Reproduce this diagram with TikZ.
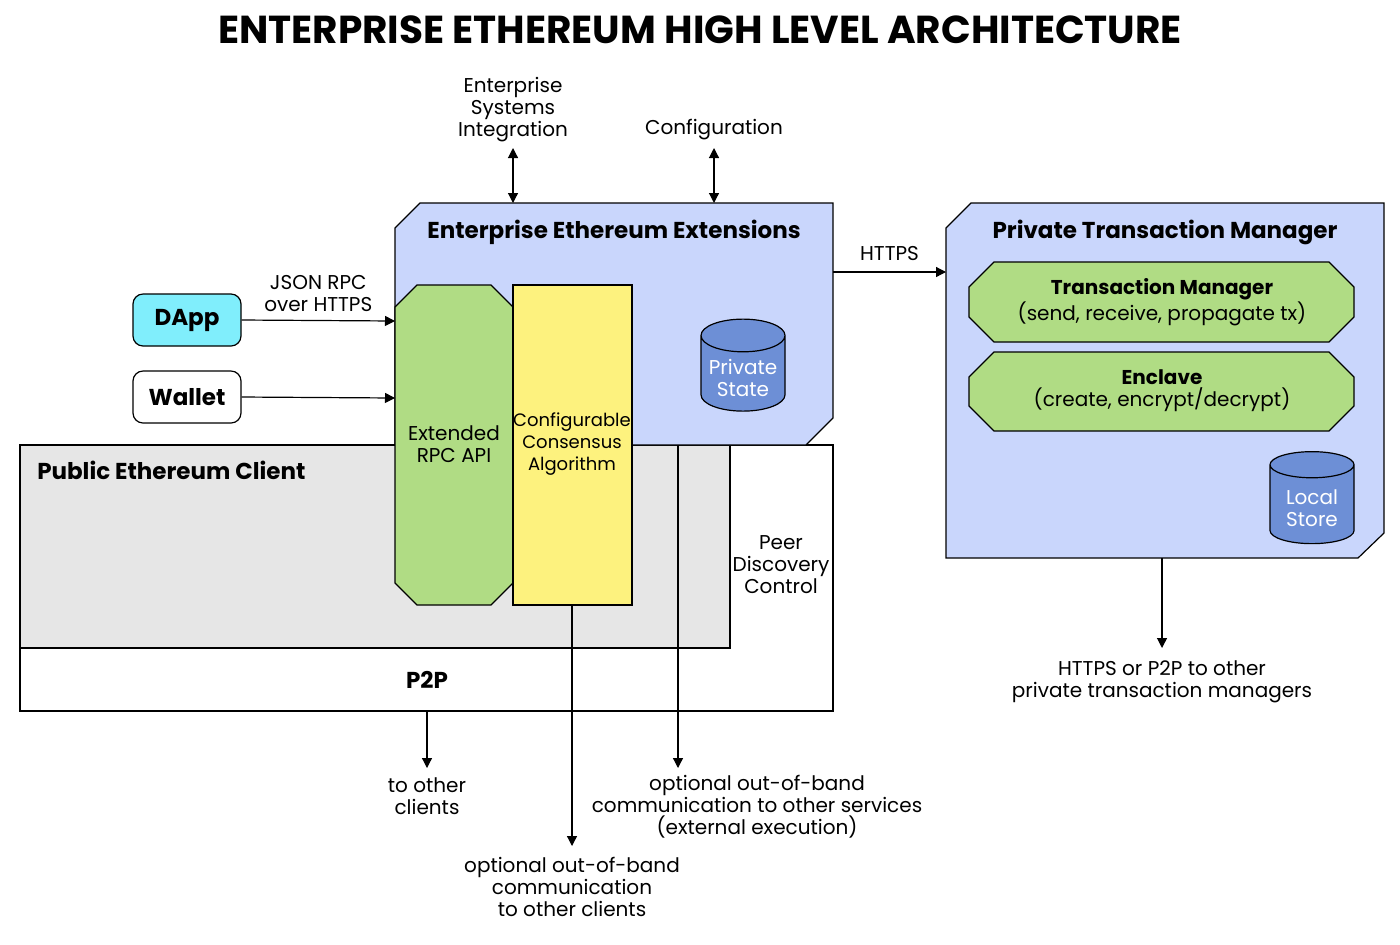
\documentclass[tikz,border=0pt]{standalone}
\usepackage{fontspec}
\setmainfont{Poppins}
\usetikzlibrary{arrows.meta,shapes.geometric}
\definecolor{lav}{HTML}{C9D6FC}
\definecolor{grn}{HTML}{B0DC84}
\definecolor{yel}{HTML}{FDF27E}
\definecolor{cyl}{HTML}{6D8FD6}
\definecolor{gry}{HTML}{E6E6E6}
\definecolor{cyan}{HTML}{80EEFC}
\begin{document}
\begin{tikzpicture}[x=0.5pt,y=-0.5pt,
  line width=0.6pt,
  arr/.style={-{Triangle[length=5pt,width=5pt]}},
  darr/.style={{Triangle[length=5pt,width=5pt]}-{Triangle[length=5pt,width=5pt]}},
  lbl/.style={align=center,font=\fontsize{10}{11}\selectfont},
  ttl/.style={font=\fontsize{11.5}{13}\selectfont\bfseries},
  db/.style={cylinder,shape border rotate=90,draw,fill=cyl,minimum width=42pt,minimum height=46pt,aspect=0.4,align=center,text=white,font=\fontsize{10}{11}\selectfont},
  app/.style={draw,rounded corners=5pt,minimum width=54pt,minimum height=26pt,font=\fontsize{11.5}{13}\selectfont\bfseries}]
\useasboundingbox (0,0) rectangle (1400,944);
\node[font=\fontsize{19.5}{22}\selectfont\bfseries] at (700,30) {ENTERPRISE ETHEREUM HIGH LEVEL ARCHITECTURE};
% P2P and public client
\draw[fill=white] (20,445) rectangle (833,711);
\draw[fill=gry] (20,445) rectangle (730,648);
\node[ttl,anchor=west] at (30,470) {Public Ethereum Client};
\node[ttl] (p2p) at (427,680) {P2P};
\coordinate (p2pb) at (427,711);
% EEE
\draw[fill=lav] (395,228) -- (420,203) -- (833,203) -- (833,418) -- (806,445) -- (395,445) -- cycle;
\node[ttl] at (614,232) {Enterprise Ethereum Extensions};
\coordinate (eeeR) at (833,272);
\coordinate (eeeT1) at (513,203);
\coordinate (eeeT2) at (714,203);
\coordinate (eeeB) at (678,445);
\draw[fill=grn] (417,285) -- (491,285) -- (513,307) -- (513,583) -- (491,605) -- (417,605) -- (395,583) -- (395,307) -- cycle;
\node[lbl] (rpc) at (454,444) {Extended\\RPC API};
\coordinate (rpc1) at (395,321);
\coordinate (rpc2) at (395,398);
\draw[fill=yel] (513,285) rectangle (632,605);
\node[lbl,font=\fontsize{9}{11}\selectfont] (cons) at (572,444) {Configurable\\Consensus\\Algorithm};
\coordinate (consb) at (572,605);
\node[db] (ps) at (743,378) {Private\\State};
% apps
\node[app,fill=cyan] (dapp) at (187,320) {DApp};
\node[app,fill=white] (wal) at (187,397) {Wallet};
\draw[arr] (dapp.east) -- (rpc1) node[lbl,midway,above=1pt] {JSON RPC\\over HTTPS};
\draw[arr] (wal.east) -- (rpc2);
% top labels
\node[lbl] (esi) at (513,110) {Enterprise\\Systems\\Integration};
\node[lbl] (cfg) at (714,130) {Configuration};
\draw[darr] (513,148) -- (eeeT1);
\draw[darr] (714,148) -- (eeeT2);
% PTM
\draw[fill=lav] (946,228) -- (971,203) -- (1384,203) -- (1384,533) -- (1358,558) -- (946,558) -- cycle;
\node[ttl] (ptmt) at (1165,232) {Private Transaction Manager};
\coordinate (ptmL) at (946,272);
\coordinate (ptmB) at (1162,558);
\draw[fill=grn] (994,262) -- (1329,262) -- (1354,287) -- (1354,317) -- (1329,342) -- (994,342) -- (969,317) -- (969,287) -- cycle;
\node[lbl,align=center] (tm) at (1162,302) {\textbf{Transaction Manager}\\(send, receive, propagate tx)};
\draw[fill=grn] (994,352) -- (1329,352) -- (1354,377) -- (1354,406) -- (1329,431) -- (994,431) -- (969,406) -- (969,377) -- cycle;
\node[lbl,align=center] (enc) at (1162,391) {\textbf{Enclave}\\(create, encrypt/decrypt)};
\node[db] (ls) at (1312,508) {Local\\Store};
\draw[arr] (eeeR) -- (ptmL) node[lbl,midway,above=2pt] {HTTPS};
\node[lbl] (o4) at (1162,682) {HTTPS or P2P to other\\private transaction managers};
\draw[arr] (ptmB) -- (1162,648);
% bottom
\node[lbl] (pdc) at (781,565) {Peer\\Discovery\\Control};
\node[lbl] (o1) at (427,796) {to other\\clients};
\draw[arr] (p2pb) -- (427,768);
\node[lbl] (o2) at (757,807) {optional out-of-band\\communication to other services\\(external execution)};
\draw[arr] (eeeB) -- (678,768);
\node[lbl] (o3) at (572,887) {optional out-of-band\\communication\\to other clients};
\draw[arr] (consb) -- (572,846);
\end{tikzpicture}
\end{document}
